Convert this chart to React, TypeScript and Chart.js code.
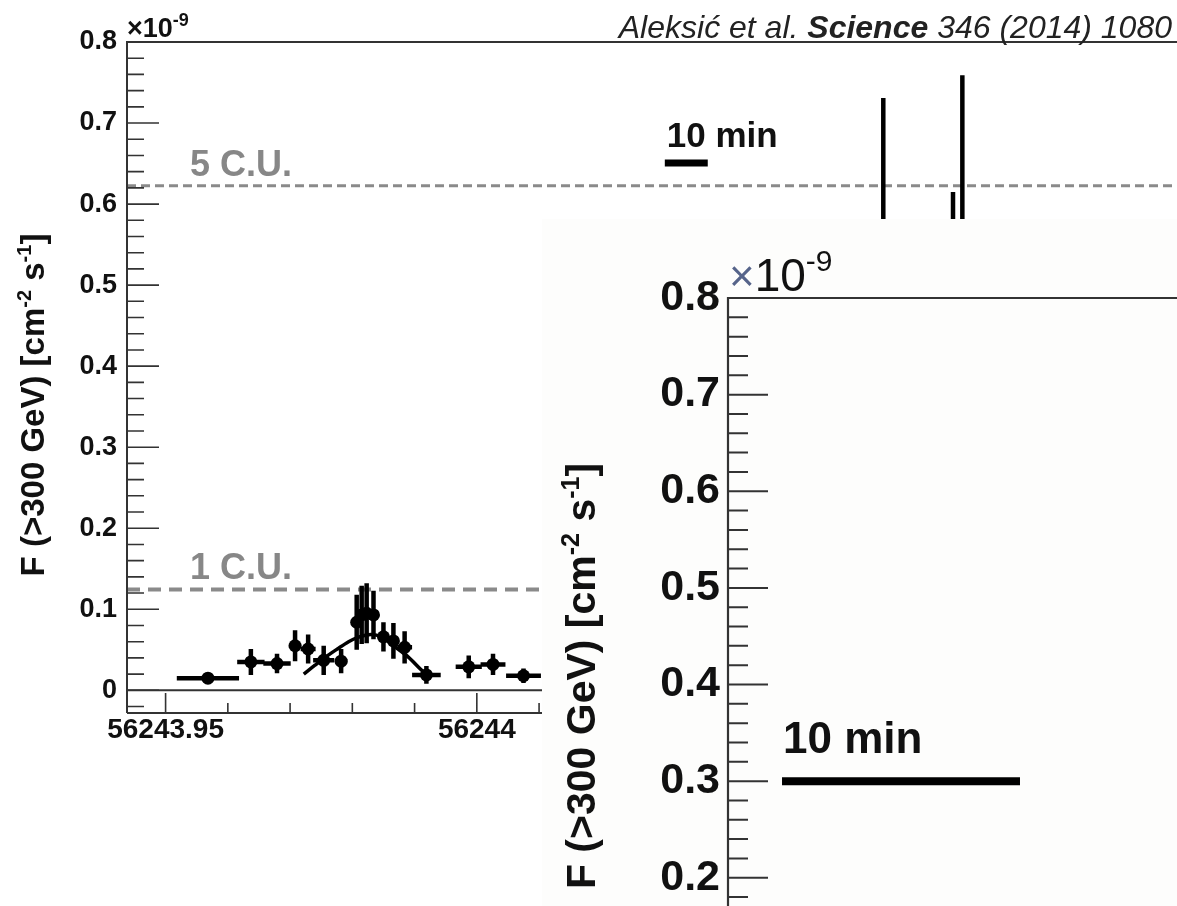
import React, { useEffect, useRef } from "react";
import { Chart, registerables } from "chart.js";
Chart.register(...registerables);

const FONT = '"Liberation Sans", Arial, Helvetica, sans-serif';

// ---- main light curve (MJD, flux in 1e-9 cm^-2 s^-1) ----
const mjd = [
  56243.9568, 56243.9637, 56243.9679, 56243.9708, 56243.9729, 56243.9754,
  56243.9782, 56243.9807, 56243.9815, 56243.9823, 56243.9834, 56243.985,
  56243.9866, 56243.9884, 56243.9919, 56243.9987, 56244.0026, 56244.0075,
  56244.0653, 56244.0765, 56244.078,
];
const flux = [
  0.015, 0.035, 0.033, 0.055, 0.051, 0.037,
  0.036, 0.084, 0.093, 0.095, 0.093, 0.066,
  0.061, 0.053, 0.019, 0.029, 0.032, 0.018,
  0.55, 0.5, 0.54,
];
const fluxErr = [
  0.004, 0.016, 0.012, 0.019, 0.018, 0.018,
  0.015, 0.034, 0.036, 0.037, 0.03, 0.018,
  0.022, 0.02, 0.011, 0.014, 0.013, 0.009,
  0.181, 0.115, 0.219,
];
const timeErr = [
  0.005, 0.0022, 0.0022, 0.001, 0.0012, 0.0017,
  0.001, 0.0008, 0.0006, 0.0006, 0.0008, 0.0008,
  0.0008, 0.0012, 0.0023, 0.0021, 0.002, 0.0028,
  0.0009, 0.0009, 0.0009,
];

// fitted flare profile
const fitX = [
  56243.9722, 56243.974, 56243.9757, 56243.9776, 56243.9794, 56243.9808,
  56243.9821, 56243.983, 56243.9847, 56243.9868, 56243.989, 56243.9911, 56243.9922,
];
const fitY = [0.02, 0.031, 0.041, 0.051, 0.06, 0.065, 0.068, 0.069, 0.066, 0.054, 0.041, 0.025, 0.017];

// Crab unit reference levels
const cuLevels = [0.1245, 0.6225];
const cuLabels = ["1 C.U.", "5 C.U."];

// axes
const xMin = 56243.9438;
const xMax = 56244.1312;
const yMin = -0.028;
const yMax = 0.8;
const xTickValues = [56243.95, 56244];
const xTickLabels = ["56243.95", "56244"];
const yTickValues = [0, 0.1, 0.2, 0.3, 0.4, 0.5, 0.6, 0.7, 0.8];
const yTickLabels = ["0", "0.1", "0.2", "0.3", "0.4", "0.5", "0.6", "0.7", "0.8"];

// 10 min scale bars (10 min = 0.006944 d)
const scaleBarMain = [56244.0302, 56244.0371];
const scaleBarMainLevel = 0.6506;
const insetXMin = 56244.06;
const insetXMax = 56244.076165;
const scaleBarInset = [56244.061576, 56244.06852];
const scaleBarInsetLevel = 0.3;
const insetYMin = 0;
const insetYMax = 0.8;

type Part = { t: string; size: number; weight?: string; rise?: number; color?: string };

function drawRich(ctx: CanvasRenderingContext2D, parts: Part[], x: number, y: number, align: "left" | "center") {
  const widths = parts.map((p) => {
    ctx.font = `${p.weight || "bold"} ${p.size}px ${FONT}`;
    return ctx.measureText(p.t).width;
  });
  const total = widths.reduce((a, b) => a + b, 0);
  let cx = align === "center" ? x - total / 2 : x;
  ctx.textAlign = "left";
  ctx.textBaseline = "alphabetic";
  parts.forEach((p, i) => {
    ctx.font = `${p.weight || "bold"} ${p.size}px ${FONT}`;
    ctx.fillStyle = p.color || "#111";
    ctx.fillText(p.t, cx, y - (p.rise || 0));
    cx += widths[i];
  });
}

function titleParts(size: number): Part[] {
  const s = Math.round(size * 0.62);
  const r = Math.round(size * 0.4);
  return [
    { t: "F (>300 GeV) [cm", size },
    { t: "-2", size: s, rise: r },
    { t: " s", size },
    { t: "-1", size: s, rise: r },
    { t: "]", size },
  ];
}

function drawRotatedTitle(ctx: CanvasRenderingContext2D, cx: number, cy: number, size: number) {
  ctx.save();
  ctx.translate(cx, cy);
  ctx.rotate(-Math.PI / 2);
  drawRich(ctx, titleParts(size), 0, size * 0.36, "center");
  ctx.restore();
}

const mainDecor = {
  id: "mainDecor",
  beforeDatasetsDraw(chart: any) {
    const { ctx, chartArea: a, scales } = chart;
    const xs = scales.x;
    const ys = scales.y;
    ctx.save();
    // reference C.U. lines
    const dashes = [[13, 8], [9, 5]];
    const widths = [4, 3];
    cuLevels.forEach((lv, i) => {
      const py = ys.getPixelForValue(lv);
      ctx.strokeStyle = "#8a8a8a";
      ctx.lineWidth = widths[i];
      ctx.setLineDash(dashes[i]);
      ctx.beginPath();
      ctx.moveTo(a.left, py);
      ctx.lineTo(a.right, py);
      ctx.stroke();
    });
    ctx.setLineDash([]);
    // frame
    ctx.strokeStyle = "#333";
    ctx.lineWidth = 2;
    ctx.beginPath();
    ctx.moveTo(a.left, a.bottom);
    ctx.lineTo(a.left, a.top);
    ctx.lineTo(a.right, a.top);
    ctx.moveTo(a.left, a.bottom);
    ctx.lineTo(a.right, a.bottom);
    const y0 = ys.getPixelForValue(0);
    ctx.moveTo(a.left, y0);
    ctx.lineTo(a.right, y0);
    ctx.stroke();
    // y ticks (inside)
    ctx.lineWidth = 1.6;
    ctx.beginPath();
    for (let i = -5; i <= 45; i++) {
      const v = i * 0.02;
      if (v < ys.min - 1e-9 || v > ys.max + 1e-9) continue;
      const py = ys.getPixelForValue(v);
      const len = i % 5 === 0 ? 32 : 17;
      ctx.moveTo(a.left, py);
      ctx.lineTo(a.left + len, py);
    }
    // x ticks (inside, upward)
    for (let k = -5; k <= 25; k++) {
      const v = 56243.95 + k * 0.01;
      if (v < xs.min || v > xs.max) continue;
      const px = xs.getPixelForValue(v);
      const len = k % 5 === 0 ? 20 : 10;
      ctx.moveTo(px, a.bottom);
      ctx.lineTo(px, a.bottom - len);
    }
    ctx.stroke();
    // error bars
    ctx.strokeStyle = "#000";
    ctx.lineWidth = 4.5;
    ctx.lineCap = "butt";
    ctx.beginPath();
    mjd.forEach((t, i) => {
      const px = xs.getPixelForValue(t);
      const py = ys.getPixelForValue(flux[i]);
      ctx.moveTo(px, ys.getPixelForValue(flux[i] - fluxErr[i]));
      ctx.lineTo(px, ys.getPixelForValue(flux[i] + fluxErr[i]));
      ctx.moveTo(xs.getPixelForValue(t - timeErr[i]), py);
      ctx.lineTo(xs.getPixelForValue(t + timeErr[i]), py);
    });
    ctx.stroke();
    ctx.restore();
  },
  afterDraw(chart: any) {
    const { ctx, chartArea: a, scales } = chart;
    const xs = scales.x;
    const ys = scales.y;
    ctx.save();
    // C.U. labels
    cuLevels.forEach((lv, i) => {
      const py = ys.getPixelForValue(lv);
      drawRich(ctx, [{ t: cuLabels[i], size: 36, color: "#878787" }], a.left + 63, py - 10, "left");
    });
    // 10 min label
    const bx = xs.getPixelForValue(scaleBarMain[0]);
    const by = ys.getPixelForValue(scaleBarMainLevel);
    drawRich(ctx, [{ t: "10 min", size: 35 }], bx + 2, by - 16, "left");
    // exponent
    drawRich(
      ctx,
      [
        { t: "×10", size: 27 },
        { t: "-9", size: 18, rise: 11 },
      ],
      a.left,
      a.top - 5,
      "left"
    );
    // y title
    drawRotatedTitle(ctx, 32, 405, 33);
    ctx.restore();
  },
};

const insetDecor = {
  id: "insetDecor",
  beforeDatasetsDraw(chart: any) {
    const { ctx, chartArea: a, scales } = chart;
    const ys = scales.y;
    ctx.save();
    ctx.strokeStyle = "#333";
    ctx.lineWidth = 2.2;
    ctx.beginPath();
    ctx.moveTo(a.left, a.bottom);
    ctx.lineTo(a.left, a.top);
    ctx.lineTo(a.right, a.top);
    ctx.stroke();
    ctx.lineWidth = 2;
    ctx.beginPath();
    for (let i = 0; i <= 40; i++) {
      const v = i * 0.02;
      const py = ys.getPixelForValue(v);
      const len = i % 5 === 0 ? 40 : 20;
      ctx.moveTo(a.left, py);
      ctx.lineTo(a.left + len, py);
    }
    ctx.stroke();
    ctx.restore();
  },
  afterDraw(chart: any) {
    const { ctx, chartArea: a, scales } = chart;
    const xs = scales.x;
    const ys = scales.y;
    ctx.save();
    drawRich(
      ctx,
      [
        { t: "×", size: 44, weight: "normal", color: "#56648a" },
        { t: "10", size: 46, weight: "normal", color: "#111" },
        { t: "-9", size: 30, weight: "normal", rise: 20, color: "#111" },
      ],
      a.left + 1,
      a.top - 7,
      "left"
    );
    const bx = xs.getPixelForValue(scaleBarInset[0]);
    const by = ys.getPixelForValue(scaleBarInsetLevel);
    drawRich(ctx, [{ t: "10 min", size: 44 }], bx + 1, by - 28, "left");
    drawRotatedTitle(ctx, 38, 457, 41);
    ctx.restore();
  },
};

export default function App() {
  const mainRef = useRef<HTMLCanvasElement>(null);
  const insetRef = useRef<HTMLCanvasElement>(null);

  useEffect(() => {
    const main = new Chart(mainRef.current!, {
      type: "scatter",
      data: {
        datasets: [
          {
            data: mjd.map((x, i) => ({ x, y: flux[i] })),
            pointRadius: 6.5,
            pointBackgroundColor: "#000",
            pointBorderColor: "#000",
            pointBorderWidth: 0,
            showLine: false,
          },
          {
            type: "line",
            data: fitX.map((x, i) => ({ x, y: fitY[i] })),
            borderColor: "#000",
            borderWidth: 3.5,
            pointRadius: 0,
            cubicInterpolationMode: "monotone",
            fill: false,
          },
          {
            type: "line",
            data: scaleBarMain.map((x) => ({ x, y: scaleBarMainLevel })),
            borderColor: "#000",
            borderWidth: 7,
            borderCapStyle: "butt",
            pointRadius: 0,
            fill: false,
          },
        ],
      } as any,
      options: {
        responsive: false,
        animation: false,
        devicePixelRatio: 1,
        events: [],
        layout: { padding: { top: 42, left: 0, right: 0, bottom: 0 } },
        plugins: { legend: { display: false }, tooltip: { enabled: false } },
        scales: {
          x: {
            type: "linear",
            min: xMin,
            max: xMax,
            grid: { display: false },
            border: { display: false },
            ticks: {
              font: { family: FONT, size: 28, weight: "bold" },
              color: "#111",
              padding: -8,
              maxRotation: 0,
              autoSkip: false,
              callback: (_v: any, i: number) => xTickLabels[i],
            },
            afterBuildTicks: (s: any) => {
              s.ticks = xTickValues.map((v) => ({ value: v }));
            },
            afterFit: (s: any) => {
              s.height = 770 - 713;
            },
          },
          y: {
            type: "linear",
            min: yMin,
            max: yMax,
            grid: { display: false },
            border: { display: false },
            ticks: {
              font: { family: FONT, size: 27, weight: "bold" },
              color: "#111",
              padding: 2,
              autoSkip: false,
              callback: (_v: any, i: number) => yTickLabels[i],
            },
            afterBuildTicks: (s: any) => {
              s.ticks = yTickValues.map((v) => ({ value: v }));
            },
            afterFit: (s: any) => {
              s.width = 127;
            },
          },
        },
      } as any,
      plugins: [mainDecor],
    });

    const inset = new Chart(insetRef.current!, {
      type: "line",
      data: {
        datasets: [
          {
            data: scaleBarInset.map((x) => ({ x, y: scaleBarInsetLevel })),
            borderColor: "#000",
            borderWidth: 8,
            borderCapStyle: "butt",
            pointRadius: 0,
            fill: false,
          },
        ],
      } as any,
      options: {
        responsive: false,
        animation: false,
        devicePixelRatio: 1,
        events: [],
        layout: { padding: { top: 79, left: 0, right: 0, bottom: 68 } },
        plugins: { legend: { display: false }, tooltip: { enabled: false } },
        scales: {
          x: { type: "linear", min: insetXMin, max: insetXMax, display: false },
          y: {
            type: "linear",
            min: insetYMin,
            max: insetYMax,
            grid: { display: false },
            border: { display: false },
            ticks: {
              font: { family: FONT, size: 43, weight: "bold" },
              color: "#111",
              padding: 0,
              autoSkip: false,
              callback: (_v: any, i: number) => yTickLabels[i],
            },
            afterBuildTicks: (s: any) => {
              s.ticks = yTickValues.map((v) => ({ value: v }));
            },
            afterFit: (s: any) => {
              s.width = 186;
            },
          },
        },
      } as any,
      plugins: [insetDecor],
    });

    return () => {
      main.destroy();
      inset.destroy();
    };
  }, []);

  return (
    <div
      style={{
        position: "fixed",
        left: 0,
        top: 0,
        width: 1177,
        height: 906,
        overflow: "hidden",
        background: "#fff",
      }}
    >
      <canvas ref={mainRef} width={1300} height={770} style={{ position: "absolute", left: 0, top: 0 }} />
      <div
        style={{
          position: "absolute",
          right: 5,
          top: 11,
          fontFamily: FONT,
          fontStyle: "italic",
          fontSize: 32,
          lineHeight: "32px",
          color: "#222",
          whiteSpace: "nowrap",
        }}
      >
        Aleksić et al. <b>Science</b> 346 (2014) 1080
      </div>
      <div
        style={{
          position: "absolute",
          left: 542,
          top: 219,
          width: 635,
          height: 687,
          background: "#fdfdfc",
          overflow: "hidden",
        }}
      >
        <canvas ref={insetRef} width={740} height={920} style={{ position: "absolute", left: 0, top: 0 }} />
      </div>
    </div>
  );
}
